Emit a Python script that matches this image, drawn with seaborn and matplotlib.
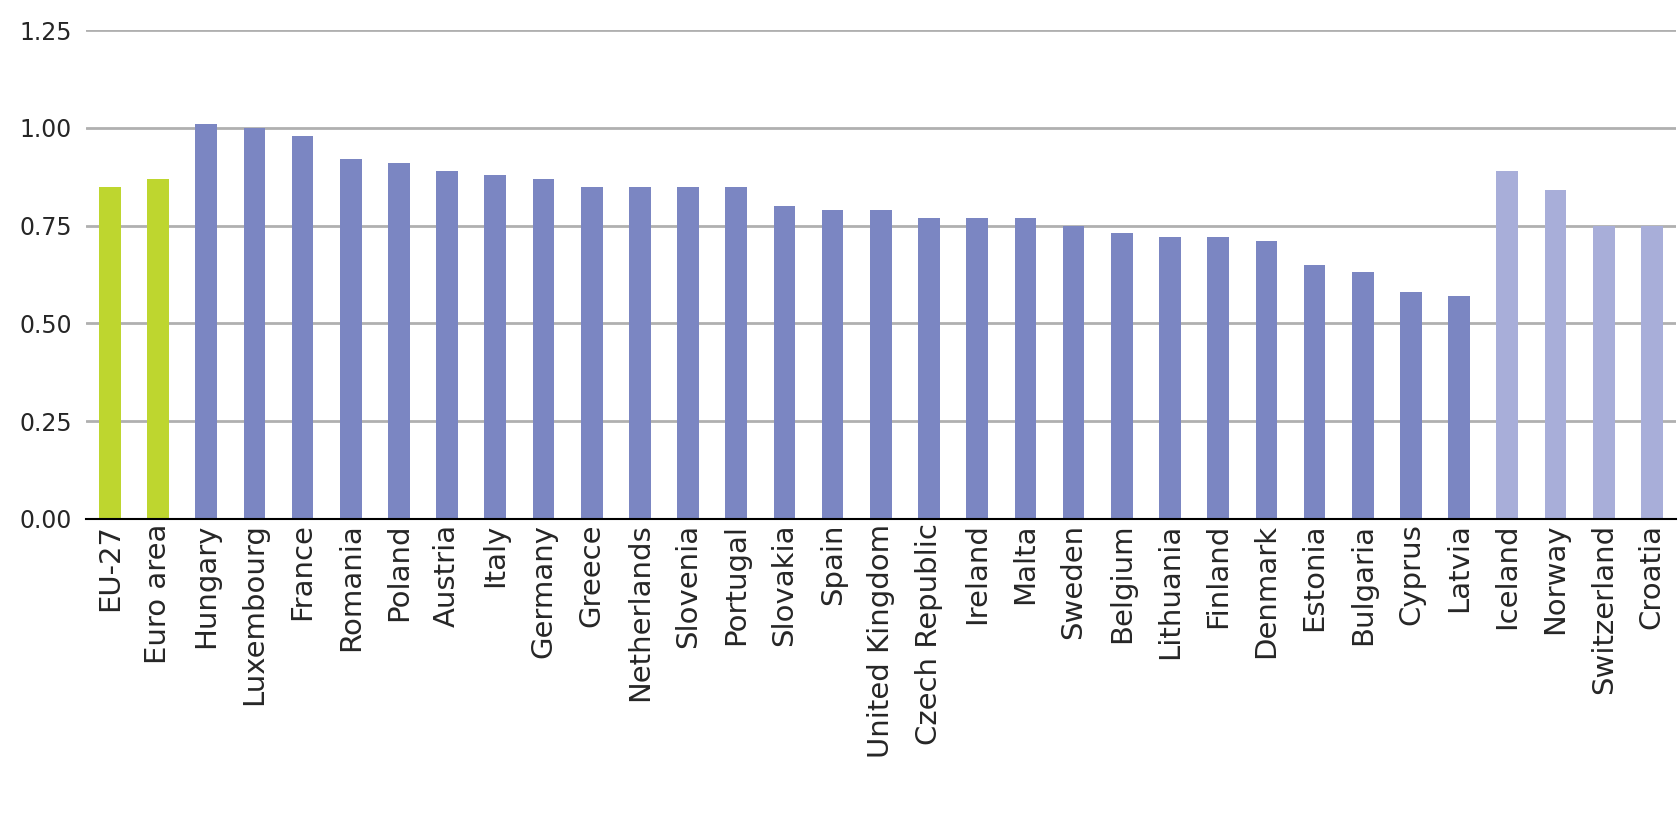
import matplotlib
matplotlib.use("Agg")
import matplotlib.pyplot as plt
import seaborn as sns
import pandas as pd

countries = ["EU-27", "Euro area", "Hungary", "Luxembourg", "France", "Romania", "Poland",
             "Austria", "Italy", "Germany", "Greece", "Netherlands", "Slovenia", "Portugal",
             "Slovakia", "Spain", "United Kingdom", "Czech Republic", "Ireland", "Malta",
             "Sweden", "Belgium", "Lithuania", "Finland", "Denmark", "Estonia", "Bulgaria",
             "Cyprus", "Latvia", "Iceland", "Norway", "Switzerland", "Croatia"]
values = [0.85, 0.87, 1.01, 1.00, 0.98, 0.92, 0.91, 0.89, 0.88, 0.87, 0.85, 0.85, 0.85, 0.85,
          0.80, 0.79, 0.79, 0.77, 0.77, 0.77, 0.75, 0.73, 0.72, 0.72, 0.71, 0.65, 0.63,
          0.58, 0.57, 0.89, 0.84, 0.75, 0.75]
groups = ["agg"] * 2 + ["member"] * 27 + ["other"] * 4

palette = {"agg": "#BED62F", "member": "#7B86C2", "other": "#A8AED9"}
df = pd.DataFrame({"country": countries, "value": values, "group": groups})

sns.set_style("white")
plt.rcParams['font.family'] = ['DejaVu Sans']
fig, ax = plt.subplots(figsize=(16.81, 8.38), dpi=100)
sns.barplot(data=df, x="country", y="value", hue="group", palette=palette,
            dodge=False, width=0.45, saturation=1, linewidth=0, legend=False, ax=ax)

ax.set_ylim(0, 1.25)
ticks = [0, 0.25, 0.5, 0.75, 1.0, 1.25]
ax.set_yticks(ticks)
ax.set_yticklabels([f"{v:.2f}" for v in ticks], fontsize=17)
ax.yaxis.grid(True, color="#B0B0B0", linewidth=2)
ax.set_axisbelow(True)
ax.set_xlim(-0.5, len(countries) - 0.5)
ax.tick_params(axis="x", labelrotation=90, labelsize=21, length=0)
ax.tick_params(axis="y", length=0, pad=10)
ax.set_xlabel("")
ax.set_ylabel("")
for s in ["top", "right", "left"]:
    ax.spines[s].set_visible(False)
ax.spines["bottom"].set_color("black")
ax.spines["bottom"].set_linewidth(1.5)
ax.set_xticks([i + 0.5 for i in range(-1, len(countries))], minor=True)
ax.tick_params(axis="x", which="minor", length=6, color="black")

plt.subplots_adjust(left=0.051, right=0.997, top=0.964, bottom=0.381)
fig.savefig("out.png", dpi=100)
